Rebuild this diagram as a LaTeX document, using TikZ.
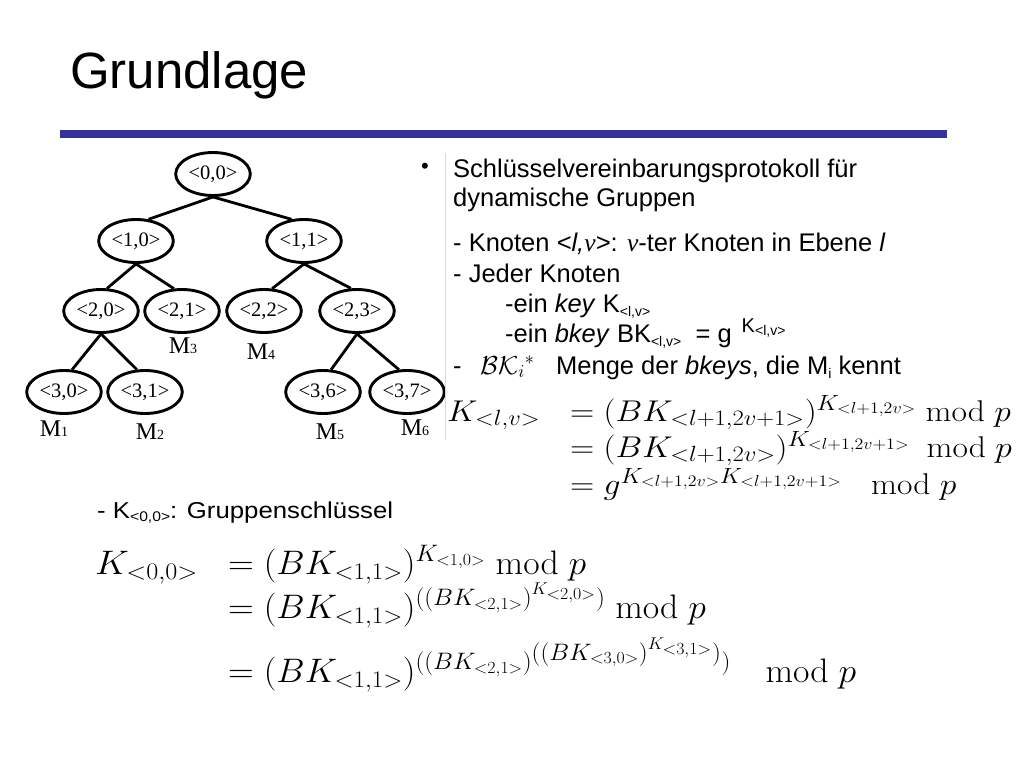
\RequirePackage{fix-cm}
\documentclass[tikz,border=0pt]{standalone}
\usepackage[no-math]{fontspec}
\setmainfont{Liberation Sans}
\newfontfamily\timesf{Liberation Serif}
\usepackage{graphicx}
\usetikzlibrary{shapes.geometric}
\DeclareMathSizes{30}{30}{22}{16}
\definecolor{rulecol}{RGB}{51,51,153}
\definecolor{sepcol}{RGB}{215,215,215}
\tikzset{
  tn/.style={ellipse, draw, line width=2.9pt, minimum width=74pt, minimum height=43pt, inner xsep=2pt, inner ysep=5.5pt, font=\timesf\fontsize{20.5}{20.5}\selectfont},
  ml/.style={inner sep=0pt, font=\timesf\fontsize{24}{24}\selectfont},
  tedge/.style={line width=2.8pt},
  txt/.style={anchor=base west, inner sep=0pt, font=\fontsize{25.5}{30}\selectfont},
  mth/.style={anchor=base west, inner sep=0pt, font=\fontsize{30}{36}\selectfont},
  bmth/.style={anchor=base west, inner sep=0pt, font=\fontsize{34}{40}\selectfont}
}
\newcommand{\msub}[1]{{\fontsize{14}{14}\selectfont #1}}
\newcommand{\ssub}[1]{\raisebox{-0.3ex}{\fontsize{14}{14}\selectfont #1}}
\begin{document}
\begin{tikzpicture}[x=1pt,y=-1pt]
\useasboundingbox (0,0) rectangle (1024,768);
% title and rule
\node[anchor=base west, inner sep=0pt, font=\fontsize{51}{57}\selectfont] (title) at (70,88) {Grundlage};
\fill[rulecol] (60,129.5) rectangle (947,137.5);
% tree
\node[tn] (n00) at (213,174) {<0,0>};
\node[tn] (n10) at (136,241) {<1,0>};
\node[tn] (n11) at (304,241) {<1,1>};
\node[tn, minimum width=71pt] (n20) at (101,311) {<2,0>};
\node[tn, minimum width=72pt] (n21) at (182,311) {<2,1>};
\node[tn, minimum width=72pt] (n22) at (264,311) {<2,2>};
\node[tn, minimum width=72pt] (n23) at (357,311) {<2,3>};
\node[tn, minimum width=71pt] (n30) at (64,392) {<3,0>};
\node[tn, minimum width=71pt] (n31) at (145,392) {<3,1>};
\node[tn, minimum width=71pt] (n36) at (323,392) {<3,6>};
\node[tn, minimum width=71pt] (n37) at (407,392) {<3,7>};
\draw[tedge] (n00.south) -- (n10.60);
\draw[tedge] (n00.south) -- (n11.120);
\draw[tedge] (n10.south) -- (n20.75);
\draw[tedge] (n10.south) -- (n21.110);
\draw[tedge] (n11.south) -- (n22.70);
\draw[tedge] (n11.south) -- (n23.105);
\draw[tedge] (n20.south) -- (n30.70);
\draw[tedge] (n20.south) -- (n31.110);
\draw[tedge] (n23.south) -- (n36.70);
\draw[tedge] (n23.south) -- (n37.110);
\node[ml] (m1) at (54,429) {M\msub{1}};
\node[ml] (m2) at (150,432) {M\msub{2}};
\node[ml] (m3) at (183,346) {M\msub{3}};
\node[ml] (m4) at (261,352) {M\msub{4}};
\node[ml] (m5) at (330,432) {M\msub{5}};
\node[ml] (m6) at (415,428) {M\msub{6}};
% separator
\draw[sepcol, line width=1pt] (445,153) coordinate (s1) -- (445,440) coordinate (s2);
% right text
\node[anchor=center, inner sep=0pt, font=\fontsize{22}{22}\selectfont] (bul) at (425,168) {•};
\node[txt] (t1) at (453,177) {Schlüsselvereinbarungsprotokoll für};
\node[txt] (t2) at (453,206) {dynamische Gruppen};
\node[txt] (t3) at (453,251) {- Knoten \textit{<l,}{\timesf\itshape v}\textit{>}: {\timesf\itshape v}-ter Knoten in Ebene \textit{l}};
\node[txt] (t4) at (453,282) {- Jeder Knoten};
\node[txt] (t5) at (505,312) {-ein \textit{key} K\ssub{<l,v>}};
\node[txt] (t6) at (505,342) {-ein \textit{bkey} BK\ssub{<l,v>}\ \ = g\hspace{10pt}\raisebox{10pt}{\fontsize{20}{20}\selectfont K\ssub{<l,v>}}};
\node[txt] (t7) at (453,374) {-\hspace{18.5pt}\makebox[76pt][l]{\fontsize{26}{26}\selectfont$\mathcal{BK}_i{}^{*}$}Menge der \textit{bkeys}, die M\ssub{i} kennt};
% right equations
\node[mth] (e0) at (447,421) {\scalebox{1.12}[1]{$K_{<l,v>}$}};
\node[mth] (e1) at (570,421) {\scalebox{1.12}[1]{$=(BK_{<l+1,2v+1>})^{K_{<l+1,2v>}}\ \mathrm{mod}\ p$}};
\node[mth] (e2) at (570,457) {\scalebox{1.12}[1]{$=(BK_{<l+1,2v>})^{K_{<l+1,2v+1>}}\hspace{15pt}\mathrm{mod}\ p$}};
\node[mth] (e3) at (570,494) {\scalebox{1.12}[1]{$=g^{K_{<l+1,2v>}K_{<l+1,2v+1>}}\hspace{26pt}\mathrm{mod}\ p$}};
% bottom
\node[anchor=base west, inner sep=0pt, font=\fontsize{23}{27}\selectfont] (g0) at (97,518) {\scalebox{1.12}[1]{- K\ssub{<0,0>}: Gruppenschlüssel}};
\node[bmth] (b0) at (95,574) {\scalebox{1.1}[1]{$K_{<0,0>}$}};
\node[bmth] (b1) at (228,574) {\scalebox{1.05}[1]{$=(BK_{<1,1>})^{K_{<1,0>}}\ \mathrm{mod}\ p$}};
\node[bmth] (b2) at (228,618) {\scalebox{1.05}[1]{$=(BK_{<1,1>})^{((BK_{<2,1>})^{K_{<2,0>}})}\ \mathrm{mod}\ p$}};
\node[bmth] (b3) at (228,682) {\scalebox{1.05}[1]{$=(BK_{<1,1>})^{((BK_{<2,1>})^{\scriptstyle((BK_{<3,0>})^{K_{<3,1>}})})}\hspace{33pt}\mathrm{mod}\ p$}};
\end{tikzpicture}
\end{document}
